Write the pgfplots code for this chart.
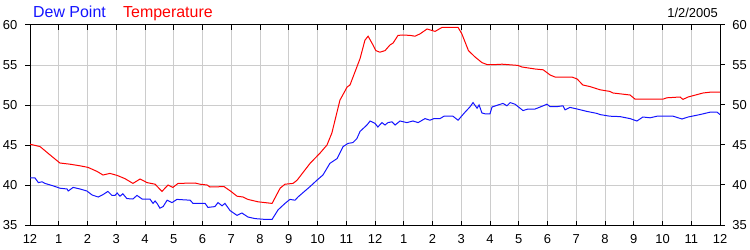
\documentclass[border=0pt]{standalone}
\usepackage{fontspec}
\setmainfont{Liberation Sans}
\usepackage{pgfplots}
\pgfplotsset{compat=1.18}
\definecolor{gridgray}{RGB}{204,204,204}
\definecolor{dewblue}{RGB}{20,20,255}
\definecolor{tempred}{RGB}{255,0,0}
\begin{document}
\begin{tikzpicture}
\useasboundingbox (-30bp,-25bp) rectangle (720bp,225bp);
\begin{axis}[
  scale only axis, width=690bp, height=200bp,
  xmin=0, xmax=24, ymin=35, ymax=60,
  xtick={0,1,...,24},
  xticklabels={12,1,2,3,4,5,6,7,8,9,10,11,12,1,2,3,4,5,6,7,8,9,10,11,12},
  ytick={35,40,45,50,55,60},
  grid=major,
  major grid style={gridgray, line width=1bp},
  axis line style={black, line width=1bp},
  xtick pos=both, xtick align=inside,
  ytick pos=left, ytick align=outside,
  major tick length=4.5bp,
  tick style={black, line width=1bp},
  /pgf/number format/assume math mode=true,
  ticklabel style={font=\fontsize{13}{15}\selectfont, inner sep=0pt},
  xticklabel style={anchor=base, yshift=-18.3bp},
  yticklabel style={anchor=east, xshift=-8bp},
  clip=true,
]
\addplot[tempred, line width=1bp] coordinates {
(0.00,45.1) (0.35,44.8) (0.70,43.75) (1.04,42.75) (1.39,42.6) (1.74,42.4) (2.02,42.2) (2.33,41.7) (2.54,41.25) (2.78,41.45) (3.03,41.2) (3.30,40.8) (3.58,40.2) (3.83,40.75) (4.07,40.3) (4.35,40.1) (4.59,39.2) (4.80,40.0) (4.97,39.7) (5.15,40.2) (5.74,40.25) (5.91,40.1) (6.16,40.0) (6.26,39.75) (6.75,39.8) (6.99,39.2) (7.20,38.6) (7.41,38.5) (7.58,38.2) (7.93,37.9) (8.17,37.8) (8.42,37.7) (8.70,39.6) (8.87,40.1) (9.15,40.2) (9.29,40.6) (9.74,42.7) (10.09,44.0) (10.33,45.0) (10.50,46.5) (10.78,50.6) (11.03,52.25) (11.13,52.5) (11.30,54.1) (11.48,55.8) (11.65,58.1) (11.76,58.6) (11.90,57.7) (12.03,56.8) (12.17,56.6) (12.35,56.8) (12.52,57.5) (12.63,57.75) (12.80,58.7) (12.97,58.75) (13.22,58.7) (13.39,58.6) (13.57,58.9) (13.81,59.5) (14.09,59.2) (14.33,59.7) (14.89,59.7) (15.02,58.9) (15.25,56.8) (15.48,56.0) (15.72,55.3) (15.90,55.05) (16.17,55.05) (16.42,55.1) (16.97,54.95) (17.11,54.75) (17.57,54.5) (17.85,54.4) (18.09,53.75) (18.26,53.5) (18.85,53.5) (19.03,53.25) (19.23,52.5) (19.48,52.3) (19.83,51.9) (20.17,51.7) (20.28,51.5) (20.87,51.25) (21.04,50.75) (22.03,50.75) (22.15,50.9) (22.61,51.0) (22.71,50.7) (22.89,51.0) (23.41,51.5) (23.65,51.6) (24.00,51.6)
};
\addplot[dewblue, line width=1bp] coordinates {
(0.00,40.9) (0.17,40.9) (0.29,40.3) (0.42,40.4) (0.52,40.2) (0.80,39.9) (1.04,39.6) (1.29,39.5) (1.33,39.25) (1.50,39.7) (1.74,39.5) (1.98,39.25) (2.16,38.75) (2.37,38.5) (2.54,38.8) (2.71,39.2) (2.85,38.7) (2.96,38.7) (3.03,39.0) (3.13,38.6) (3.23,38.9) (3.37,38.3) (3.58,38.25) (3.72,38.7) (3.90,38.25) (4.17,38.25) (4.28,37.7) (4.35,38.0) (4.42,37.7) (4.52,37.1) (4.63,37.3) (4.77,38.1) (4.94,37.8) (5.11,38.2) (5.57,38.1) (5.67,37.7) (6.09,37.7) (6.19,37.2) (6.43,37.3) (6.54,37.8) (6.68,37.4) (6.78,37.7) (6.96,36.8) (7.20,36.2) (7.37,36.5) (7.58,36.0) (7.83,35.8) (8.17,35.7) (8.42,35.7) (8.63,36.9) (8.87,37.7) (9.04,38.2) (9.22,38.1) (9.32,38.5) (9.74,39.8) (9.98,40.6) (10.19,41.25) (10.43,42.7) (10.68,43.3) (10.89,44.8) (11.06,45.2) (11.23,45.3) (11.37,45.8) (11.48,46.7) (11.72,47.5) (11.83,48.0) (12.00,47.7) (12.10,47.25) (12.24,47.8) (12.35,47.5) (12.45,47.8) (12.59,47.9) (12.70,47.5) (12.87,48.0) (13.11,47.8) (13.32,48.0) (13.50,47.8) (13.74,48.3) (13.91,48.1) (14.05,48.3) (14.26,48.3) (14.40,48.6) (14.71,48.6) (14.89,48.1) (15.13,49.1) (15.30,49.75) (15.41,50.3) (15.55,49.6) (15.62,50.0) (15.72,49.0) (15.83,48.9) (16.00,48.9) (16.07,49.75) (16.28,50.0) (16.45,50.2) (16.59,49.9) (16.70,50.3) (16.87,50.1) (17.15,49.3) (17.32,49.5) (17.57,49.5) (17.85,49.9) (17.98,50.1) (18.09,49.8) (18.33,49.8) (18.54,49.9) (18.61,49.4) (18.78,49.7) (19.03,49.5) (19.37,49.2) (19.72,48.95) (19.83,48.8) (20.17,48.6) (20.52,48.55) (20.87,48.3) (21.11,48.0) (21.32,48.5) (21.57,48.4) (21.81,48.6) (22.03,48.6) (22.37,48.6) (22.68,48.25) (22.89,48.5) (23.30,48.8) (23.65,49.1) (23.90,49.1) (24.00,48.8)
};
\end{axis}
\begin{axis}[
  scale only axis, width=690bp, height=200bp,
  xmin=0, xmax=24, ymin=35, ymax=60,
  hide x axis,
  axis y line*=right,
  ytick={35,40,45,50,55,60},
  ytick align=outside,
  major tick length=4.5bp,
  axis line style={black, line width=1bp},
  tick style={black, line width=1bp},
  /pgf/number format/assume math mode=true,
  ticklabel style={font=\fontsize{13}{15}\selectfont, inner sep=0pt},
  yticklabel style={anchor=west, xshift=7.7bp},
]
\end{axis}
\node[anchor=base west, inner sep=0pt, text=dewblue, font=\fontsize{16}{19}\selectfont] at (3bp,207.7bp) {Dew Point};
\node[anchor=base west, inner sep=0pt, text=tempred, font=\fontsize{16}{19}\selectfont] at (93bp,207.7bp) {Temperature};
\node[anchor=base east, inner sep=0pt, font=\fontsize{13}{15}\selectfont] at (688bp,207.7bp) {1/2/2005};
\end{tikzpicture}
\end{document}
